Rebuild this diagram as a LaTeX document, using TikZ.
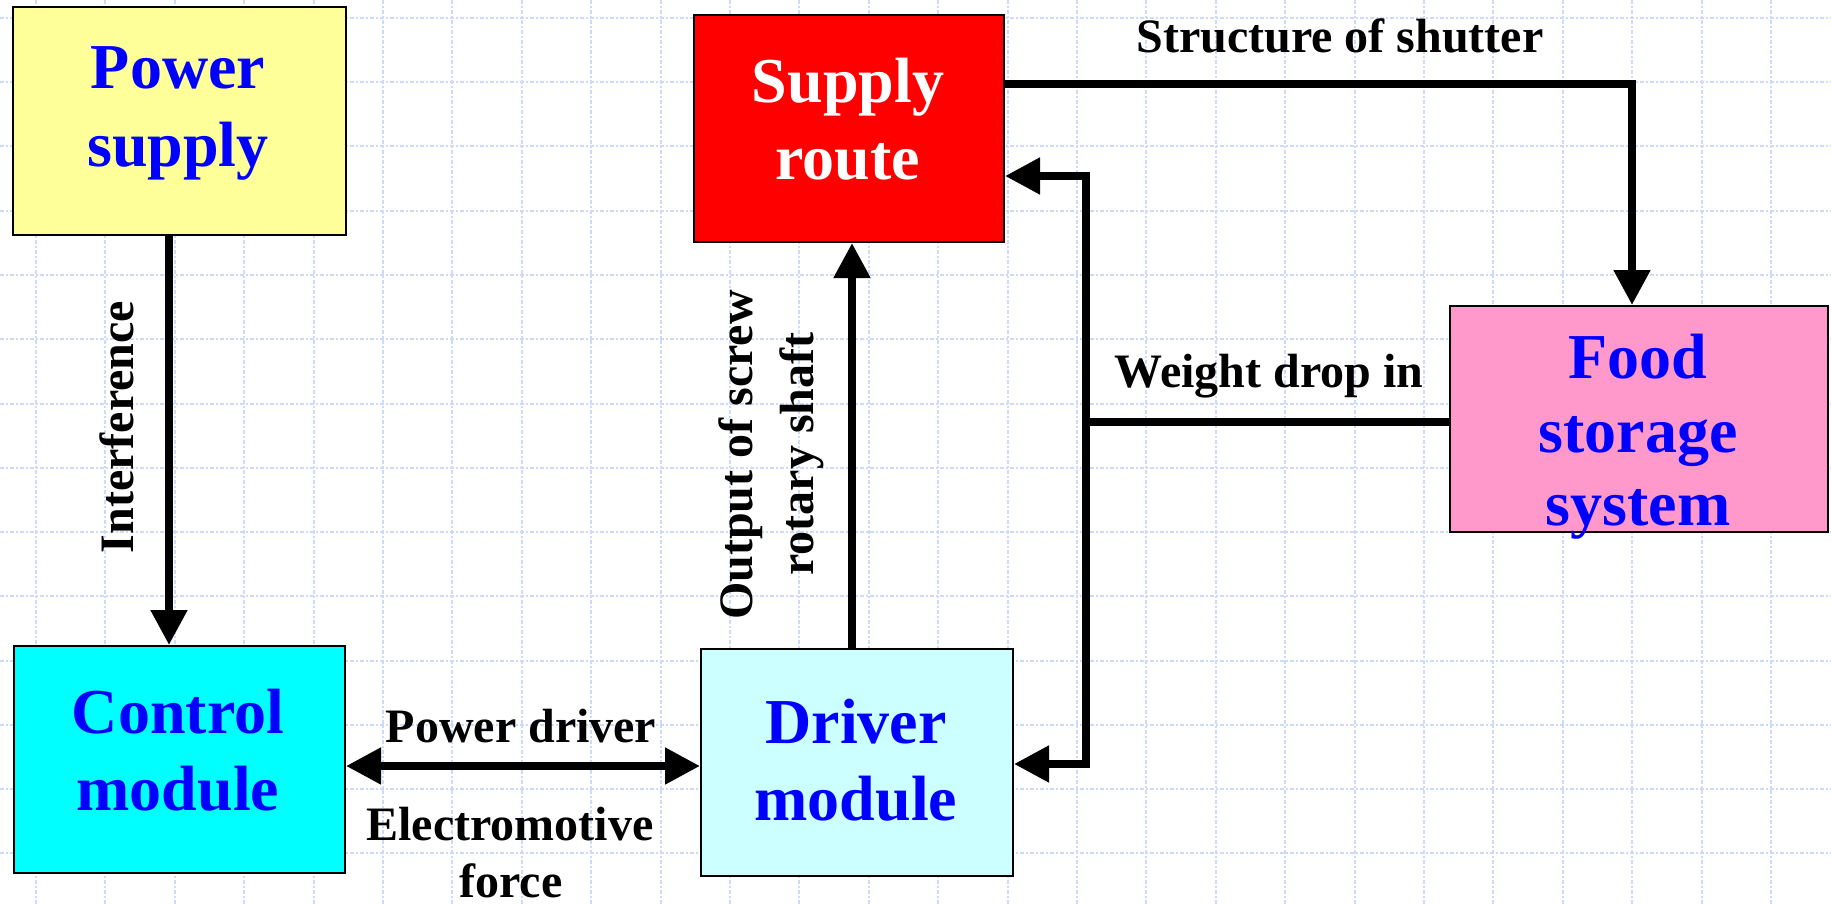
\documentclass[tikz,border=0pt]{standalone}
\usepackage{fontspec}
\setmainfont{Liberation Serif}
\usetikzlibrary{arrows.meta}
\definecolor{gridc}{RGB}{206,218,250}
\definecolor{psyel}{RGB}{255,255,153}
\definecolor{srred}{RGB}{255,0,0}
\definecolor{fspink}{RGB}{255,153,204}
\definecolor{cmcyan}{RGB}{0,255,255}
\definecolor{dmcyan}{RGB}{204,255,255}
\definecolor{txtblue}{RGB}{0,0,255}
\tikzset{
  box/.style={draw=black,line width=2pt,inner sep=0pt,anchor=north west},
  boxtxt/.style={anchor=base,inner sep=0pt,font=\bfseries\fontsize{64}{77}\selectfont,text=txtblue},
  lbl/.style={anchor=base,inner sep=0pt,font=\bfseries\fontsize{48}{57}\selectfont},
  conn/.style={line width=8pt},
  arr/.style={line width=8pt,-{Triangle[length=35pt,width=35pt]}},
  darr/.style={line width=8pt,{Triangle[length=35pt,width=35pt]}-{Triangle[length=35pt,width=35pt]}},
  gridline/.style={draw=gridc,line width=2pt,dash pattern=on 4pt off 2pt on 2pt off 2pt}
}
\begin{document}
\begin{tikzpicture}[x=1pt,y=-1pt]
\useasboundingbox (0,0) rectangle (1831,904);
\fill[white] (0,0) rectangle (1831,904);
% grid
\foreach \i in {0,...,25} {\draw[gridline] ({36+69.4*\i},0) -- ({36+69.4*\i},904);}
\foreach \j in {0,...,13} {\draw[gridline] (0,{18+64.25*\j}) -- (1831,{18+64.25*\j});}
% boxes
\node[box,fill=psyel,minimum width=333pt,minimum height=228pt] (ps) at (12,6) {};
\node[box,fill=srred,minimum width=310pt,minimum height=227pt] (sr) at (693,14) {};
\node[box,fill=fspink,minimum width=378pt,minimum height=226pt] (fs) at (1449,305) {};
\node[box,fill=cmcyan,minimum width=331pt,minimum height=227pt] (cm) at (13,645) {};
\node[box,fill=dmcyan,minimum width=312pt,minimum height=227pt] (dm) at (700,648) {};
% box texts
\node[boxtxt] (psA) at (178,89) {Power};
\node[boxtxt] (psB) at (178,167) {supply};
\node[boxtxt,text=white] (srA) at (848,103) {Supply};
\node[boxtxt,text=white] (srB) at (848,180) {route};
\node[boxtxt] (fsA) at (1638,378) {Food};
\node[boxtxt] (fsB) at (1638,452) {storage};
\node[boxtxt] (fsC) at (1638,525) {system};
\node[boxtxt] (cmA) at (178,733) {Control};
\node[boxtxt] (cmB) at (178,810) {module};
\node[boxtxt] (dmA) at (856,743) {Driver};
\node[boxtxt] (dmB) at (856,820) {module};
% helper coordinates
\coordinate (pv) at (169,400);
\coordinate (corner) at (1632,84);
\coordinate (vx) at (852,450);
\coordinate (fbt) at (1086,176);
\coordinate (fbb) at (1086,764);
\coordinate (wd) at (1086,422);
\coordinate (pd) at (520,766);
% connectors
\draw[arr] (pv |- ps.south) -- (pv |- cm.north);
\draw[arr] (sr.east |- corner) -- (corner) -- (corner |- fs.north);
\draw[arr] (vx |- dm.north) -- (vx |- sr.south);
\draw[darr,line join=miter] (sr.east |- fbt) -- (fbt) -- (fbb) -- (dm.east |- fbb);
\draw[conn] (fs.west |- wd) -- (wd);
\draw[darr] (cm.east |- pd) -- (dm.west |- pd);
% labels
\node[lbl] (lss) at (1340,53) {Structure of shutter};
\node[lbl] (lwd) at (1269,387) {Weight drop in};
\node[lbl] (lpd) at (521,742) {Power driver};
\node[lbl] (lem1) at (510,840) {Electromotive};
\node[lbl] (lem2) at (511,897) {force};
\node[lbl,rotate=90] (lo1) at (752,455) {Output of screw};
\node[lbl,rotate=90] (lo2) at (813,454) {rotary shaft};
\node[lbl,rotate=90] (lif) at (133,427) {Interference};
\end{tikzpicture}
\end{document}
